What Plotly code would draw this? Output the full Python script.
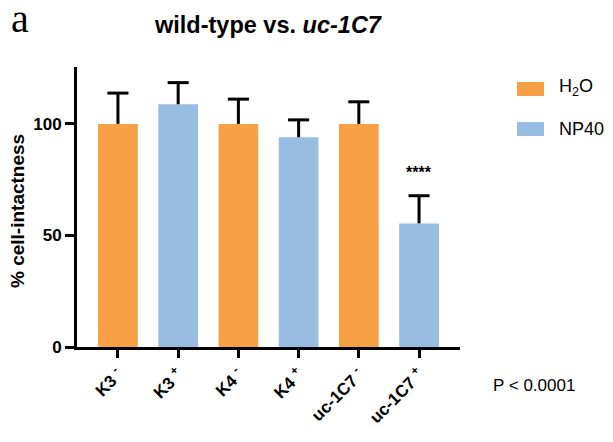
import plotly.graph_objects as go

categories = ["K3 -", "K3 +", "K4 -", "K4 +", "uc-1C7 -", "uc-1C7 +"]
tick_labels = ["K3 <sup>-</sup>", "K3 <sup>+</sup>", "K4 <sup>-</sup>", "K4 <sup>+</sup>",
               "uc-1C7 <sup>-</sup>", "uc-1C7 <sup>+</sup>"]
h2o_cats = ["K3 -", "K4 -", "uc-1C7 -"]
h2o_vals = [100, 100, 100]
h2o_err = [13.8, 11.1, 9.9]
np40_cats = ["K3 +", "K4 +", "uc-1C7 +"]
np40_vals = [108.8, 94.0, 55.4]
np40_err = [9.7, 7.8, 12.4]
sig_cat = "uc-1C7 +"
sig_label = "****"
sig_y = 73.5

ORANGE = "#F7A046"
BLUE = "#99BCE2"
FONT = "Liberation Sans, Arial, sans-serif"
BAR_W = 0.66
CAP_HALF = 0.175

pos = {c: i for i, c in enumerate(categories)}

fig = go.Figure()
fig.add_trace(go.Bar(
    x=[pos[c] for c in h2o_cats], y=h2o_vals, name="H<sub>2</sub>O",
    marker=dict(color=ORANGE, line=dict(width=0)), width=BAR_W,
))
fig.add_trace(go.Bar(
    x=[pos[c] for c in np40_cats], y=np40_vals, name="NP40",
    marker=dict(color=BLUE, line=dict(width=0)), width=BAR_W,
))

# upper-only error bars ("T" shape)
ex, ey = [], []
for cats, vals, errs in ((h2o_cats, h2o_vals, h2o_err), (np40_cats, np40_vals, np40_err)):
    for c, v, e in zip(cats, vals, errs):
        i = pos[c]
        ex += [i, i, None, i - CAP_HALF, i + CAP_HALF, None]
        ey += [v, v + e, None, v + e, v + e, None]
fig.add_trace(go.Scatter(x=ex, y=ey, mode="lines", line=dict(color="black", width=3),
                         hoverinfo="skip", showlegend=False))

fig.update_layout(
    width=613, height=442,
    margin=dict(l=77, r=153, t=67, b=95),
    plot_bgcolor="white", paper_bgcolor="white",
    barmode="overlay", showlegend=False,
    font=dict(family=FONT, color="black"),
)
fig.update_xaxes(
    tickvals=list(range(len(categories))), ticktext=["<b>%s</b>" % t for t in tick_labels],
    tickangle=-45, tickfont=dict(size=17, family=FONT, color="black"),
    range=[-0.68, 5.68],
    showline=True, linecolor="black", linewidth=3,
    ticks="outside", ticklen=8, tickwidth=3, tickcolor="black",
    showgrid=False, zeroline=False,
)
fig.update_yaxes(
    range=[0, 125.5], tickvals=[0, 50, 100], ticktext=["<b>0</b>", "<b>50</b>", "<b>100</b>"],
    tickfont=dict(size=17, family=FONT, color="black"),
    showline=True, linecolor="black", linewidth=3,
    ticks="outside", ticklen=9, tickwidth=3, tickcolor="black",
    showgrid=False, zeroline=False,
)

def px_x(p):
    return (p - 77) / 383.0
def px_y(p):
    return (347 - p) / 280.0

ann = []
ann.append(dict(text="a", x=px_x(9), y=px_y(19), xref="paper", yref="paper",
                xanchor="left", yanchor="middle", showarrow=False,
                font=dict(family="Liberation Serif, Times New Roman, serif", size=40, color="black")))
ann.append(dict(text="<b>wild-type vs. <i>uc-1C7</i></b>", x=px_x(268), y=px_y(25),
                xref="paper", yref="paper", xanchor="center", yanchor="middle", showarrow=False,
                font=dict(family=FONT, size=23.5, color="black")))
ann.append(dict(text="<b>% cell-intactness</b>", x=px_x(17), y=px_y(211), xref="paper", yref="paper",
                xanchor="center", yanchor="middle", textangle=-90, showarrow=False,
                font=dict(family=FONT, size=19, color="black")))
ann.append(dict(text="<b>%s</b>" % sig_label, x=pos[sig_cat], y=sig_y, xref="x", yref="y",
                xanchor="center", yanchor="bottom", showarrow=False,
                font=dict(family=FONT, size=16, color="black")))
ann.append(dict(text="P < 0.0001", x=px_x(491), y=px_y(385), xref="paper", yref="paper",
                xanchor="left", yanchor="middle", showarrow=False,
                font=dict(family=FONT, size=17, color="black")))
ann.append(dict(text="H<sub>2</sub>O", x=px_x(557), y=px_y(88), xref="paper", yref="paper",
                xanchor="left", yanchor="middle", showarrow=False,
                font=dict(family=FONT, size=18, color="black")))
ann.append(dict(text="NP40", x=px_x(557), y=px_y(129), xref="paper", yref="paper",
                xanchor="left", yanchor="middle", showarrow=False,
                font=dict(family=FONT, size=18, color="black")))
fig.update_layout(annotations=ann)

shapes = [
    dict(type="rect", xref="paper", yref="paper", x0=px_x(517), x1=px_x(544),
         y0=px_y(96), y1=px_y(82), fillcolor=ORANGE, line=dict(width=0)),
    dict(type="rect", xref="paper", yref="paper", x0=px_x(517), x1=px_x(544),
         y0=px_y(136), y1=px_y(122), fillcolor=BLUE, line=dict(width=0)),
]
fig.update_layout(shapes=shapes)

fig.write_html("out.html", config={"displayModeBar": False},
               post_script="document.body.style.margin='0';")
